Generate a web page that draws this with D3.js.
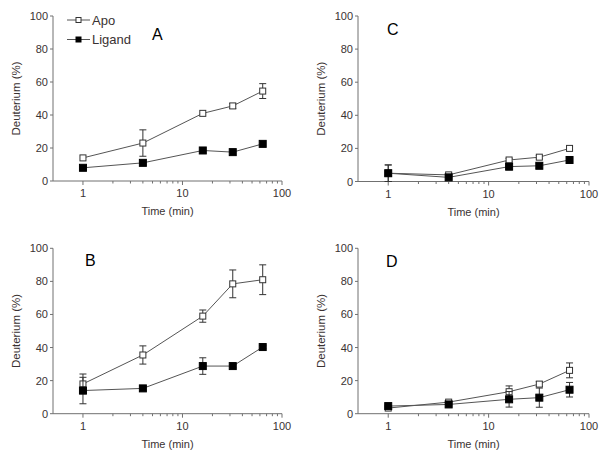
<!DOCTYPE html>
<html><head><meta charset="utf-8">
<script src="https://cdn.jsdelivr.net/npm/d3@7"></script>
<style>body{margin:0;background:#fff;} svg{display:block;font-family:Arial,"Liberation Sans",sans-serif;}</style>
</head><body>
<svg id="c" width="600" height="454"></svg>
<script>
const times = [1, 4, 16, 32, 64];
const xTickLabels = ["1", "10", "100"];
const yTickValues = [0, 20, 40, 60, 80, 100];
const seriesNames = ["Apo", "Ligand"];
const panelNames = ["A", "B", "C", "D"];

const apoA = [14, 23, 41, 45.5, 54.5];
const apoAErr = [0, 8, 0, 1.5, 4.5];
const ligA = [8, 11, 18.5, 17.5, 22.5];
const ligAErr = [0, 0, 0, 0, 0];

const apoB = [18, 35.5, 59, 78.5, 81];
const apoBErr = [6, 5.5, 3.7, 8.4, 9];
const ligB = [14, 15.3, 28.8, 28.8, 40.3];
const ligBErr = [8, 1, 5, 1, 1];

const apoC = [5, 4, 13, 14.7, 20];
const apoCErr = [5, 1, 1, 1, 1];
const ligC = [5, 2.5, 9, 9.5, 13];
const ligCErr = [5, 1, 2, 1.5, 1];

const apoD = [3.4, 7, 13.3, 17.9, 26.2];
const apoDErr = [0, 1, 3.5, 1.5, 4.5];
const ligD = [4.6, 5.6, 8.7, 9.7, 14.5];
const ligDErr = [0, 1, 4.7, 5.8, 4.4];

const data = {
  A: {apo: apoA, apoErr: apoAErr, lig: ligA, ligErr: ligAErr},
  B: {apo: apoB, apoErr: apoBErr, lig: ligB, ligErr: ligBErr},
  C: {apo: apoC, apoErr: apoCErr, lig: ligC, ligErr: ligCErr},
  D: {apo: apoD, apoErr: apoDErr, lig: ligD, ligErr: ligDErr}
};

// layout
const layout = {
  A: {x0: 53, x1: 282, y0: 181, y1: 16, lx: 152, ly: 40},
  C: {x0: 358, x1: 589, y0: 181.5, y1: 16, lx: 387, ly: 35},
  B: {x0: 53, x1: 282, y0: 413.7, y1: 248.3, lx: 85, ly: 266},
  D: {x0: 358, x1: 589, y0: 413.7, y1: 248.3, lx: 386, ly: 267}
};

const svg = d3.select("#c");
const axisColor = "#707070";
const textColor = "#3a3232";
const lineColor = "#555";

panelNames.forEach(p => {
  const L = layout[p], D = data[p];
  const x = d3.scaleLog().domain([0.5, 100]).range([L.x0, L.x1]);
  const y = d3.scaleLinear().domain([0, 100]).range([L.y0, L.y1]);
  const g = svg.append("g");

  // x axis
  const xAx = g.append("g").attr("transform", `translate(0,${L.y0})`);
  xAx.append("line").attr("x1", L.x0).attr("x2", L.x1).attr("stroke", axisColor);
  const minor = [];
  [1, 10].forEach(dec => { for (let k = 2; k <= 9; k++) minor.push(dec * k); });
  xAx.selectAll(".mn").data(minor).join("line")
    .attr("x1", d => x(d)).attr("x2", d => x(d)).attr("y1", 0).attr("y2", 2.5).attr("stroke", axisColor);
  xAx.selectAll(".mj").data(xTickLabels).join("line")
    .attr("x1", d => x(+d)).attr("x2", d => x(+d)).attr("y1", 0).attr("y2", 4).attr("stroke", axisColor);
  xAx.selectAll("text").data(xTickLabels).join("text")
    .attr("x", d => x(+d)).attr("y", 16).attr("text-anchor", "middle")
    .attr("font-size", 11).attr("fill", textColor).text(d => d);
  g.append("text").attr("x", (L.x0 + L.x1) / 2).attr("y", L.y0 + 34)
    .attr("text-anchor", "middle").attr("font-size", 11).attr("fill", textColor).text("Time (min)");

  // y axis
  const yAx = g.append("g");
  yAx.append("line").attr("x1", L.x0).attr("x2", L.x0).attr("y1", L.y0).attr("y2", L.y1).attr("stroke", axisColor);
  yAx.selectAll("line.t").data(yTickValues).join("line")
    .attr("x1", L.x0 - 3).attr("x2", L.x0).attr("y1", d => y(d)).attr("y2", d => y(d)).attr("stroke", axisColor);
  yAx.selectAll("text").data(yTickValues).join("text")
    .attr("x", L.x0 - 5).attr("y", d => y(d) + 4).attr("text-anchor", "end")
    .attr("font-size", 11).attr("fill", textColor).text(d => d);
  g.append("text").attr("transform", `translate(${L.x0 - 33},${(L.y0 + L.y1) / 2}) rotate(-90)`)
    .attr("text-anchor", "middle").attr("font-size", 11.5).attr("fill", textColor).text("Deuterium (%)");

  // panel letter
  g.append("text").attr("x", L.lx).attr("y", L.ly).attr("font-size", 16).attr("fill", "#000").text(p);

  const line = d3.line().x(d => x(d[0])).y(d => y(d[1]));
  [[D.apo, D.apoErr, false], [D.lig, D.ligErr, true]].forEach(([vals, errs, filled]) => {
    const pts = times.map((t, i) => [t, vals[i], errs[i]]);
    g.append("path").attr("d", line(pts)).attr("fill", "none").attr("stroke", lineColor).attr("stroke-width", 1);
    const eb = g.append("g").selectAll("g").data(pts.filter(d => d[2] > 0)).join("g").attr("stroke", "#333");
    eb.append("line").attr("x1", d => x(d[0])).attr("x2", d => x(d[0]))
      .attr("y1", d => y(Math.max(0, d[1] - d[2]))).attr("y2", d => y(d[1] + d[2]));
    eb.append("line").attr("x1", d => x(d[0]) - 3.5).attr("x2", d => x(d[0]) + 3.5)
      .attr("y1", d => y(d[1] + d[2])).attr("y2", d => y(d[1] + d[2]));
    eb.append("line").attr("x1", d => x(d[0]) - 3.5).attr("x2", d => x(d[0]) + 3.5)
      .attr("y1", d => y(d[1] - d[2])).attr("y2", d => y(d[1] - d[2]))
      .attr("display", d => d[1] - d[2] < 0 ? "none" : null);
    const s = filled ? 7 : 6;
    g.append("g").selectAll("rect").data(pts).join("rect")
      .attr("x", d => x(d[0]) - s / 2).attr("y", d => y(d[1]) - s / 2)
      .attr("width", s).attr("height", s)
      .attr("fill", filled ? "#000" : "#fff").attr("stroke", filled ? "#000" : "#333").attr("stroke-width", 1);
  });
});

// legend (panel A)
const leg = svg.append("g");
seriesNames.forEach((n, i) => {
  const yy = 20 + i * 19.5;
  leg.append("line").attr("x1", 67).attr("x2", 90).attr("y1", yy).attr("y2", yy).attr("stroke", lineColor);
  const s = 5;
  leg.append("rect").attr("x", 78.5 - s / 2).attr("y", yy - s / 2).attr("width", s).attr("height", s)
    .attr("fill", i === 0 ? "#fff" : "#000").attr("stroke", i === 0 ? "#333" : "#000");
  leg.append("text").attr("x", 92).attr("y", yy + 4.5).attr("font-size", 13).attr("fill", textColor).text(n);
});
</script>
</body></html>
